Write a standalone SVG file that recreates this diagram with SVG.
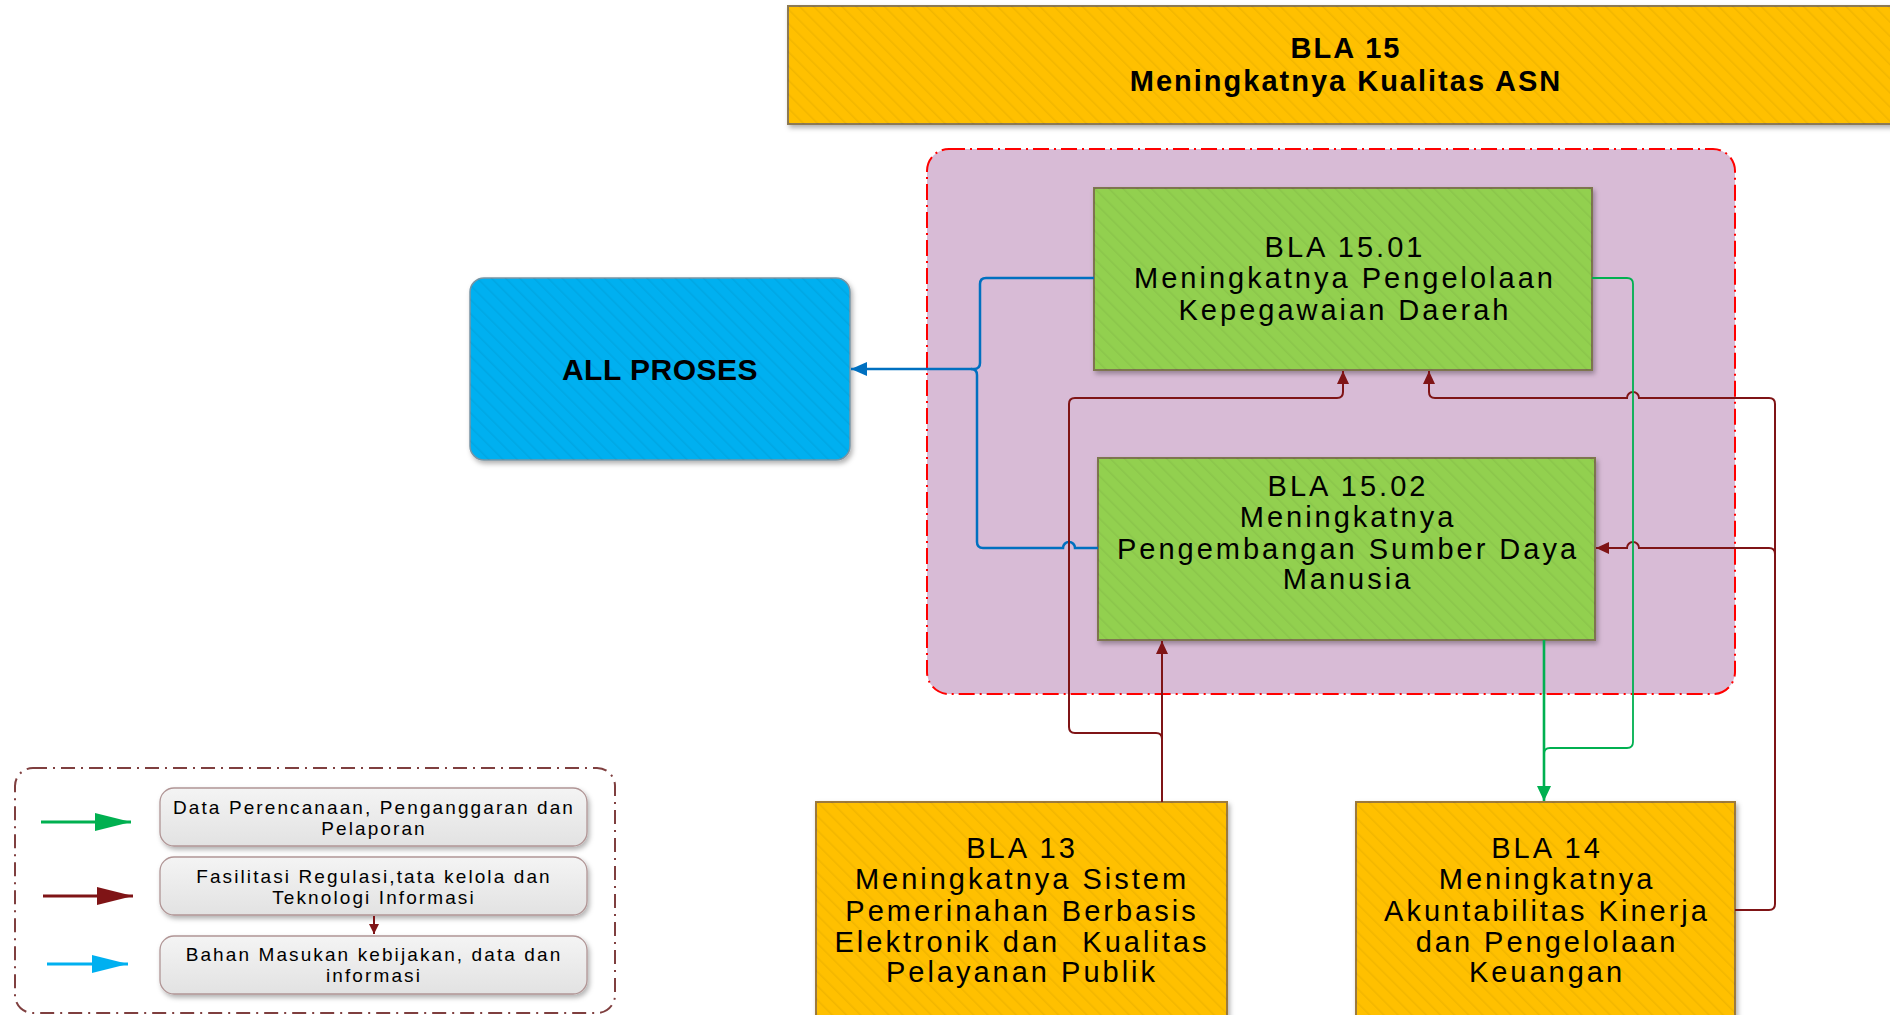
<svg xmlns="http://www.w3.org/2000/svg" width="1890" height="1015" viewBox="0 0 1890 1015">
<style>
.t{font-family:"Liberation Sans",Arial,sans-serif;fill:#000;text-anchor:middle}
.node{font-size:29px;letter-spacing:3px}
.hdr{font-size:29px;font-weight:bold;letter-spacing:2px}
.lg{font-size:19px;letter-spacing:2.1px}
.blue{fill:none;stroke:#0070C0;stroke-width:2.5}
.red{fill:none;stroke:#7F1416;stroke-width:2}
.green{fill:none;stroke:#00B050;stroke-width:1.8}
</style>
<defs>
<pattern id="hatch" width="10" height="10" patternUnits="userSpaceOnUse" patternTransform="rotate(-45)">
<line x1="0" y1="0" x2="0" y2="10" stroke="#000" stroke-opacity="0.05" stroke-width="3"/>
</pattern>
<linearGradient id="lgfill" x1="0" y1="0" x2="0" y2="1">
<stop offset="0" stop-color="#F4F4F4"/><stop offset="1" stop-color="#E2E2E2"/>
</linearGradient>
<filter id="sh" x="-10%" y="-10%" width="125%" height="130%">
<feDropShadow dx="2" dy="3" stdDeviation="2.5" flood-color="#000" flood-opacity="0.3"/>
</filter>
<marker id="aBlue" markerUnits="userSpaceOnUse" markerWidth="18" markerHeight="14" refX="16" refY="7" orient="auto"><path d="M0,0 L16,7 L0,14 z" fill="#0070C0"/></marker>
<marker id="aRed" markerUnits="userSpaceOnUse" markerWidth="14" markerHeight="12" refX="13" refY="6" orient="auto"><path d="M0,0 L13,6 L0,12 z" fill="#7F1416"/></marker>
<marker id="aGreen" markerUnits="userSpaceOnUse" markerWidth="16" markerHeight="14" refX="15" refY="7" orient="auto"><path d="M0,0 L15,7 L0,14 z" fill="#00B050"/></marker>
<marker id="lGreen" markerUnits="userSpaceOnUse" markerWidth="38" markerHeight="18" refX="36" refY="9" orient="auto"><path d="M0,0 L36,9 L0,18 z" fill="#00B050"/></marker>
<marker id="lRed" markerUnits="userSpaceOnUse" markerWidth="38" markerHeight="18" refX="36" refY="9" orient="auto"><path d="M0,0 L36,9 L0,18 z" fill="#7F1416"/></marker>
<marker id="lBlue" markerUnits="userSpaceOnUse" markerWidth="38" markerHeight="18" refX="36" refY="9" orient="auto"><path d="M0,0 L36,9 L0,18 z" fill="#00B0F0"/></marker>
<marker id="lSmall" markerUnits="userSpaceOnUse" markerWidth="12" markerHeight="12" refX="10" refY="5" orient="auto"><path d="M0,0 L10,5 L0,10 z" fill="#7F1416"/></marker>
</defs>
<rect width="1890" height="1015" fill="#fff"/>

<g id="bla15">
<rect x="788" y="6" width="1110" height="118" fill="#FFC000" stroke="#8C7A55" stroke-width="2" filter="url(#sh)"/>
<rect x="788" y="6" width="1110" height="118" fill="url(#hatch)"/>
<text class="t hdr" x="1346" y="58">BLA 15</text>
<text class="t hdr" x="1346" y="91">Meningkatnya Kualitas ASN</text>
</g>

<g id="container">
<rect x="927" y="149" width="808" height="545" rx="22" fill="#D8BBD6" stroke="#FF0000" stroke-width="2" stroke-dasharray="16,5,2,5"/>
</g>

<g id="bla1501">
<rect x="1094" y="188" width="498" height="182" fill="#92D050" stroke="#7E7550" stroke-width="2" filter="url(#sh)"/>
<rect x="1094" y="188" width="498" height="182" fill="url(#hatch)"/>
<text class="t node" x="1345" y="257">BLA 15.01</text>
<text class="t node" x="1345" y="288">Meningkatnya Pengelolaan</text>
<text class="t node" x="1345" y="320">Kepegawaian Daerah</text>
</g>

<g id="bla1502">
<rect x="1098" y="458" width="497" height="182" fill="#92D050" stroke="#7E7550" stroke-width="2" filter="url(#sh)"/>
<rect x="1098" y="458" width="497" height="182" fill="url(#hatch)"/>
<text class="t node" x="1348" y="496">BLA 15.02</text>
<text class="t node" x="1348" y="527">Meningkatnya</text>
<text class="t node" x="1348" y="559">Pengembangan Sumber Daya</text>
<text class="t node" x="1348" y="589">Manusia</text>
</g>

<g id="allproses">
<rect x="470" y="278" width="380" height="182" rx="14" fill="#00B0F0" stroke="#7895A5" stroke-width="1.5" filter="url(#sh)"/>
<rect x="470" y="278" width="380" height="182" rx="14" fill="url(#hatch)"/>
<text class="t" x="660" y="380" style="font-size:30px;font-weight:bold;letter-spacing:0.5px">ALL PROSES</text>
</g>

<g id="bla13">
<rect x="816" y="802" width="411" height="230" fill="#FFC000" stroke="#9C7A3C" stroke-width="2" filter="url(#sh)"/>
<rect x="816" y="802" width="411" height="230" fill="url(#hatch)"/>
<text class="t node" x="1022" y="858">BLA 13</text>
<text class="t node" x="1022" y="889">Meningkatnya Sistem</text>
<text class="t node" x="1022" y="921">Pemerinahan Berbasis</text>
<text class="t node" x="1022" y="952" xml:space="preserve">Elektronik dan  Kualitas</text>
<text class="t node" x="1022" y="982">Pelayanan Publik</text>
</g>

<g id="bla14">
<rect x="1356" y="802" width="379" height="230" fill="#FFC000" stroke="#9C7A3C" stroke-width="2" filter="url(#sh)"/>
<rect x="1356" y="802" width="379" height="230" fill="url(#hatch)"/>
<text class="t node" x="1547" y="858">BLA 14</text>
<text class="t node" x="1547" y="889">Meningkatnya</text>
<text class="t node" x="1547" y="921">Akuntabilitas Kinerja</text>
<text class="t node" x="1547" y="952">dan Pengelolaan</text>
<text class="t node" x="1547" y="982">Keuangan</text>
</g>

<g id="connectors">
<path class="blue" d="M1094,278 H986 Q980,278 980,284 V363 Q980,369 974,369 H851" marker-end="url(#aBlue)"/>
<path class="blue" d="M1098,548 H1075 A6,6 0 0 0 1063,548 H983 Q977,548 977,542 V375 Q977,369 971,369"/>
<path class="red" d="M1162,802 V641" marker-end="url(#aRed)"/>
<path class="red" d="M1162,739 Q1162,733 1156,733 H1075 Q1069,733 1069,727 V404 Q1069,398 1075,398 H1337 Q1343,398 1343,392 V371" marker-end="url(#aRed)"/>
<path class="red" d="M1735,910 H1769 Q1775,910 1775,904 V404 Q1775,398 1769,398 H1639 A6,6 0 0 0 1627,398 H1435 Q1429,398 1429,392 V371" marker-end="url(#aRed)"/>
<path class="red" d="M1775,554 Q1775,548 1769,548 H1639 A6,6 0 0 0 1627,548 H1596" marker-end="url(#aRed)"/>
<path class="green" d="M1592,278 H1627 Q1633,278 1633,284 V742 Q1633,748 1627,748 H1550 Q1544,748 1544,754"/>
<path class="green" style="stroke-width:2.6" d="M1544,640 V801" marker-end="url(#aGreen)"/>
</g>

<g id="legend">
<rect x="15" y="768" width="600" height="245" rx="18" fill="none" stroke="#7F3F3F" stroke-width="2" stroke-dasharray="14,6,2,6"/>
<line x1="41" y1="822" x2="131" y2="822" stroke="#00B050" stroke-width="3" marker-end="url(#lGreen)"/>
<line x1="43" y1="896" x2="133" y2="896" stroke="#7F1416" stroke-width="3" marker-end="url(#lRed)"/>
<line x1="47" y1="964" x2="128" y2="964" stroke="#00B0F0" stroke-width="3" marker-end="url(#lBlue)"/>
<g id="legend-data">
<rect x="160" y="788" width="427" height="58" rx="14" fill="url(#lgfill)" stroke="#B09595" stroke-width="1.3" filter="url(#sh)"/>
<text class="t lg" x="374" y="814">Data Perencanaan, Penganggaran dan</text>
<text class="t lg" x="374" y="835">Pelaporan</text>
</g>
<g id="legend-fasilitasi">
<rect x="160" y="857" width="427" height="58" rx="14" fill="url(#lgfill)" stroke="#B09595" stroke-width="1.3" filter="url(#sh)"/>
<text class="t lg" x="374" y="883">Fasilitasi Regulasi,tata kelola dan</text>
<text class="t lg" x="374" y="904">Teknologi Informasi</text>
</g>
<line x1="374" y1="916" x2="374" y2="934" stroke="#7F1416" stroke-width="2" marker-end="url(#lSmall)"/>
<g id="legend-bahan">
<rect x="160" y="936" width="427" height="58" rx="14" fill="url(#lgfill)" stroke="#B09595" stroke-width="1.3" filter="url(#sh)"/>
<text class="t lg" x="374" y="961">Bahan Masukan kebijakan, data dan</text>
<text class="t lg" x="374" y="982">informasi</text>
</g>
</g>
</svg>
